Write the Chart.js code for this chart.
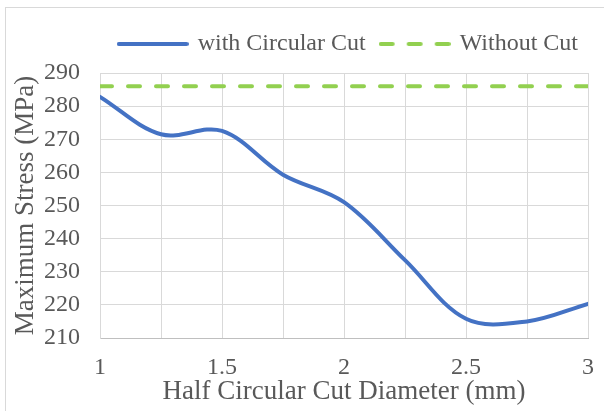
<!DOCTYPE html>
<html>
<head>
<meta charset="utf-8">
<script src="https://cdn.jsdelivr.net/npm/chart.js@4/dist/chart.umd.min.js"></script>
<style>
  html, body { margin: 0; padding: 0; background: #ffffff; overflow: hidden; }
  #wrap { position: relative; width: 604px; height: 411px; }
  #frame { position: absolute; left: 5px; top: 7px; width: 700px; height: 500px;
           border: 1px solid #d9d9d9; box-sizing: border-box; }
  #c { position: absolute; left: 0; top: 0; }
</style>
</head>
<body>
<div id="wrap">
  <div id="frame"></div>
  <canvas id="c" width="604" height="411"></canvas>
</div>
<script>
// Half circular cut diameter (mm) and maximum stress (MPa)
const diameters = [1, 1.25, 1.5, 1.75, 2, 2.25, 2.5, 2.75, 3];
const stressWithCut = [282.8, 271.5, 272.5, 259.3, 251.0, 233.5, 215.8, 215.0, 220.3];
const stressWithoutCut = [286, 286, 286, 286, 286, 286, 286, 286, 286];
const seriesNames = ['with Circular Cut', 'Without Cut'];
const xTickLabels = ['1', '1.5', '2', '2.5', '3'];
const yTickLabels = ['210', '220', '230', '240', '250', '260', '270', '280', '290'];

const TEXT = '#595959';
const BLUE = '#4472C4';
const GREEN = '#92D050';
const SERIF = "'Liberation Serif', 'Times New Roman', serif";

const toPoints = (ys) => diameters.map((x, i) => ({ x: x, y: ys[i] }));

// Small line swatches used as legend symbols
function swatch(color, dash) {
  const c = document.createElement('canvas');
  c.width = 72; c.height = 6;
  const g = c.getContext('2d');
  g.strokeStyle = color;
  g.lineWidth = 4;
  g.lineCap = 'round';
  g.setLineDash(dash);
  g.beginPath();
  g.moveTo(2, 3);
  g.lineTo(70, 3);
  g.stroke();
  return c;
}

new Chart(document.getElementById('c'), {
  type: 'line',
  data: {
    datasets: [
      {
        label: seriesNames[0],
        data: toPoints(stressWithCut),
        borderColor: BLUE,
        backgroundColor: BLUE,
        borderWidth: 4,
        borderCapStyle: 'round',
        tension: 0.35,
        pointRadius: 0,
        pointStyle: swatch(BLUE, []),
        fill: false
      },
      {
        label: seriesNames[1],
        data: toPoints(stressWithoutCut),
        borderColor: GREEN,
        backgroundColor: GREEN,
        borderWidth: 4,
        borderDash: [12, 16],
        borderCapStyle: 'round',
        tension: 0,
        pointRadius: 0,
        pointStyle: swatch(GREEN, [12, 16]),
        fill: false
      }
    ]
  },
  options: {
    responsive: false,
    animation: false,
    devicePixelRatio: 1,
    layout: { padding: { top: 6, right: 10, bottom: 0, left: 0 } },
    plugins: {
      tooltip: { enabled: false },
      // empty title box: a gap between the legend and the plot
      title: {
        display: true,
        text: '',
        position: 'top',
        weight: 500,
        padding: 0,
        font: { size: 7, lineHeight: 1 }
      },
      legend: {
        position: 'top',
        align: 'end',
        labels: {
          usePointStyle: true,
          pointStyleWidth: 66,
          boxWidth: 66,
          padding: 16,
          color: TEXT,
          font: { family: SERIF, size: 24 }
        }
      }
    },
    scales: {
      x: {
        type: 'linear',
        min: 1,
        max: 3,
        afterFit: (s) => { s.height = 73; s.paddingRight = 16; },
        ticks: {
          stepSize: 0.25,
          autoSkip: false,
          maxRotation: 0,
          padding: 15,
          color: TEXT,
          font: { family: SERIF, size: 24 },
          callback: (v) => {
            const l = xTickLabels.find((t) => Math.abs(parseFloat(t) - v) < 1e-6);
            return l === undefined ? '' : l;
          }
        },
        grid: { color: '#d9d9d9', lineWidth: 1, drawTicks: false },
        border: { color: '#bfbfbf', width: 1 },
        title: {
          display: true,
          text: 'Half Circular Cut Diameter (mm)',
          color: TEXT,
          font: { family: SERIF, size: 27 },
          padding: { top: 0, bottom: 3 }
        }
      },
      y: {
        min: 210,
        max: 290,
        afterFit: (s) => { s.width = 100; s.paddingTop = 73; },
        ticks: {
          stepSize: 10,
          padding: 20,
          color: TEXT,
          font: { family: SERIF, size: 24 },
          callback: (v) => {
            const l = yTickLabels.find((t) => Number(t) === v);
            return l === undefined ? '' : l;
          }
        },
        grid: { color: '#d9d9d9', lineWidth: 1, drawTicks: false },
        border: { color: '#d9d9d9', width: 1 },
        title: {
          display: true,
          text: 'Maximum Stress (MPa)',
          color: TEXT,
          font: { family: SERIF, size: 27 },
          padding: { top: 10, bottom: 0 }
        }
      }
    }
  }
});
</script>
</body>
</html>
